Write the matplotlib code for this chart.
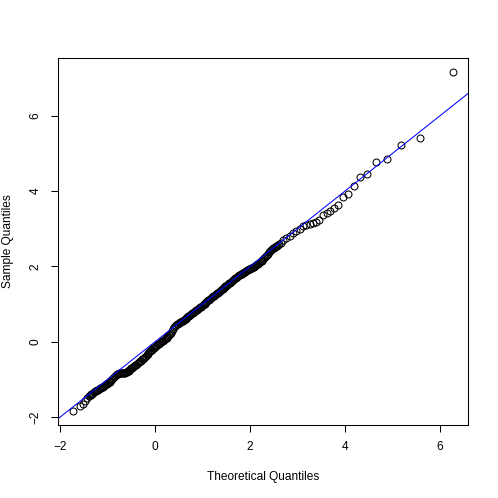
import matplotlib
matplotlib.use("Agg")
import matplotlib.pyplot as plt
import numpy as np

plt.rcParams['font.family'] = ['Liberation Sans', 'DejaVu Sans']

# theoretical quantiles (x) and sample quantiles (y)
theo = [-1.72, -1.58, -1.52, -1.47, -1.44,
        -1.40, -1.38, -1.36, -1.34, -1.32, -1.30, -1.28, -1.26, -1.24, -1.22,
        -1.20, -1.18, -1.16, -1.14, -1.12, -1.10, -1.08, -1.06, -1.04, -1.02,
        -1.00, -0.98, -0.96, -0.94, -0.92, -0.90, -0.88, -0.86, -0.84, -0.82,
        -0.80, -0.78, -0.76, -0.74, -0.72, -0.70, -0.68, -0.66, -0.64, -0.62,
        -0.60, -0.58, -0.56, -0.54, -0.52, -0.50, -0.48, -0.46, -0.44, -0.42,
        -0.40, -0.38, -0.36, -0.34, -0.32, -0.30, -0.28, -0.26, -0.24, -0.22,
        -0.20, -0.18, -0.16, -0.14, -0.12, -0.10, -0.08, -0.06, -0.04, -0.02,
        0.00, 0.02, 0.04, 0.06, 0.08, 0.10, 0.12, 0.14, 0.16, 0.18,
        0.20, 0.22, 0.24, 0.26, 0.28, 0.30, 0.32, 0.34, 0.36, 0.38,
        0.40, 0.42, 0.44, 0.46, 0.48, 0.50, 0.52, 0.54, 0.56, 0.58,
        0.60, 0.62, 0.64, 0.66, 0.68, 0.70, 0.72, 0.74, 0.76, 0.78,
        0.80, 0.82, 0.84, 0.86, 0.88, 0.90, 0.92, 0.94, 0.96, 0.98,
        1.00, 1.02, 1.04, 1.06, 1.08, 1.10, 1.12, 1.14, 1.16, 1.18,
        1.20, 1.22, 1.24, 1.26, 1.28, 1.30, 1.32, 1.34, 1.36, 1.38,
        1.40, 1.42, 1.44, 1.46, 1.48, 1.50, 1.52, 1.54, 1.56, 1.58,
        1.60, 1.62, 1.64, 1.66, 1.68, 1.70, 1.72, 1.74, 1.76, 1.78,
        1.80, 1.82, 1.84, 1.86, 1.88, 1.90, 1.92, 1.94, 1.96, 1.98,
        2.00, 2.02, 2.04, 2.06, 2.08, 2.10, 2.12, 2.14, 2.16, 2.18,
        2.20, 2.22, 2.24, 2.26, 2.28, 2.30, 2.32, 2.34, 2.36, 2.38,
        2.40, 2.42, 2.44, 2.46, 2.48, 2.50, 2.52, 2.54, 2.56, 2.58,
        2.60, 2.64, 2.69, 2.76, 2.83, 2.90, 2.97, 3.04, 3.11, 3.18,
        3.25, 3.32, 3.39, 3.46, 3.53, 3.61, 3.68, 3.77, 3.86, 3.96,
        4.06, 4.18, 4.32, 4.47, 4.65, 4.88, 5.17, 5.58, 6.27]
samp = [-1.85, -1.70, -1.65, -1.58, -1.50,
        -1.44, -1.42, -1.41, -1.39, -1.38, -1.36, -1.34, -1.32, -1.31, -1.29,
        -1.27, -1.25, -1.24, -1.22, -1.20, -1.19, -1.17, -1.15, -1.13, -1.12,
        -1.10, -1.08, -1.06, -1.04, -1.02, -1.00, -0.97, -0.95, -0.92, -0.89,
        -0.86, -0.85, -0.84, -0.84, -0.83, -0.83, -0.83, -0.82, -0.82, -0.81,
        -0.80, -0.79, -0.78, -0.76, -0.73, -0.71, -0.69, -0.67, -0.65, -0.63,
        -0.61, -0.59, -0.56, -0.54, -0.52, -0.50, -0.47, -0.45, -0.43, -0.40,
        -0.38, -0.36, -0.33, -0.31, -0.28, -0.26, -0.23, -0.21, -0.18, -0.16,
        -0.13, -0.11, -0.09, -0.07, -0.05, -0.03, -0.01, 0.01, 0.03, 0.05,
        0.07, 0.09, 0.11, 0.13, 0.15, 0.17, 0.20, 0.24, 0.29, 0.34,
        0.38, 0.41, 0.44, 0.46, 0.48, 0.50, 0.51, 0.53, 0.54, 0.56,
        0.57, 0.59, 0.61, 0.63, 0.65, 0.67, 0.69, 0.71, 0.73, 0.75,
        0.77, 0.79, 0.81, 0.83, 0.85, 0.87, 0.89, 0.91, 0.93, 0.95,
        0.97, 0.99, 1.01, 1.04, 1.06, 1.08, 1.10, 1.12, 1.14, 1.16,
        1.18, 1.20, 1.22, 1.24, 1.26, 1.28, 1.30, 1.33, 1.35, 1.37,
        1.39, 1.41, 1.43, 1.45, 1.47, 1.49, 1.51, 1.53, 1.55, 1.57,
        1.59, 1.61, 1.63, 1.66, 1.68, 1.70, 1.72, 1.74, 1.76, 1.78,
        1.79, 1.80, 1.82, 1.83, 1.85, 1.86, 1.87, 1.89, 1.90, 1.92,
        1.93, 1.95, 1.96, 1.98, 1.99, 2.01, 2.03, 2.05, 2.07, 2.09,
        2.11, 2.13, 2.15, 2.17, 2.19, 2.22, 2.25, 2.28, 2.31, 2.34,
        2.37, 2.40, 2.43, 2.46, 2.48, 2.50, 2.51, 2.53, 2.55, 2.57,
        2.59, 2.63, 2.69, 2.75, 2.81, 2.88, 2.93, 2.99, 3.06, 3.10,
        3.13, 3.16, 3.19, 3.24, 3.35, 3.41, 3.48, 3.55, 3.63, 3.83,
        3.93, 4.14, 4.36, 4.45, 4.76, 4.86, 5.23, 5.40, 7.17]

# reference line (abline)
line_a = 0.0
line_b = 1.0

x_ticks = [-2, 0, 2, 4, 6]
y_ticks = [-2, 0, 2, 4, 6]

fig = plt.figure(figsize=(4.98, 4.98), dpi=100)
ax = fig.add_axes([0.117, 0.1466, 0.823, 0.737])

ax.plot(theo, samp, linestyle='none', marker='o', markersize=5.0,
        markerfacecolor='none', markeredgecolor='black', markeredgewidth=0.75)

# R style 4% padding
xr = max(theo) - min(theo)
yr = max(samp) - min(samp)
xlim = (min(theo) - 0.04 * xr, max(theo) + 0.04 * xr)
ylim = (min(samp) - 0.04 * yr, max(samp) + 0.04 * yr)
ax.set_xlim(xlim)
ax.set_ylim(ylim)

xx = np.array(xlim)
ax.plot(xx, line_a + line_b * xx, color='#0000ff', linewidth=0.75)

ax.set_xticks(x_ticks)
ax.set_yticks(y_ticks)
ax.set_xticklabels([str(v).replace('-', '\u2212') for v in x_ticks])
ax.set_yticklabels([str(v).replace('-', '\u2212') for v in y_ticks],
                   rotation=90, va='center')
ax.tick_params(direction='out', length=5.2, width=0.75, labelsize=8.6,
               color='black')
ax.tick_params(axis='x', pad=6)
ax.tick_params(axis='y', pad=7)

for s in ax.spines.values():
    s.set_linewidth(0.75)

ax.set_xlabel('Theoretical Quantiles', fontsize=8.6)
ax.set_ylabel('Sample Quantiles', fontsize=8.6)
ax.xaxis.set_label_coords(0.5, -0.125)
ax.yaxis.set_label_coords(-0.107, 0.5)

fig.savefig('out.png', dpi=100)
